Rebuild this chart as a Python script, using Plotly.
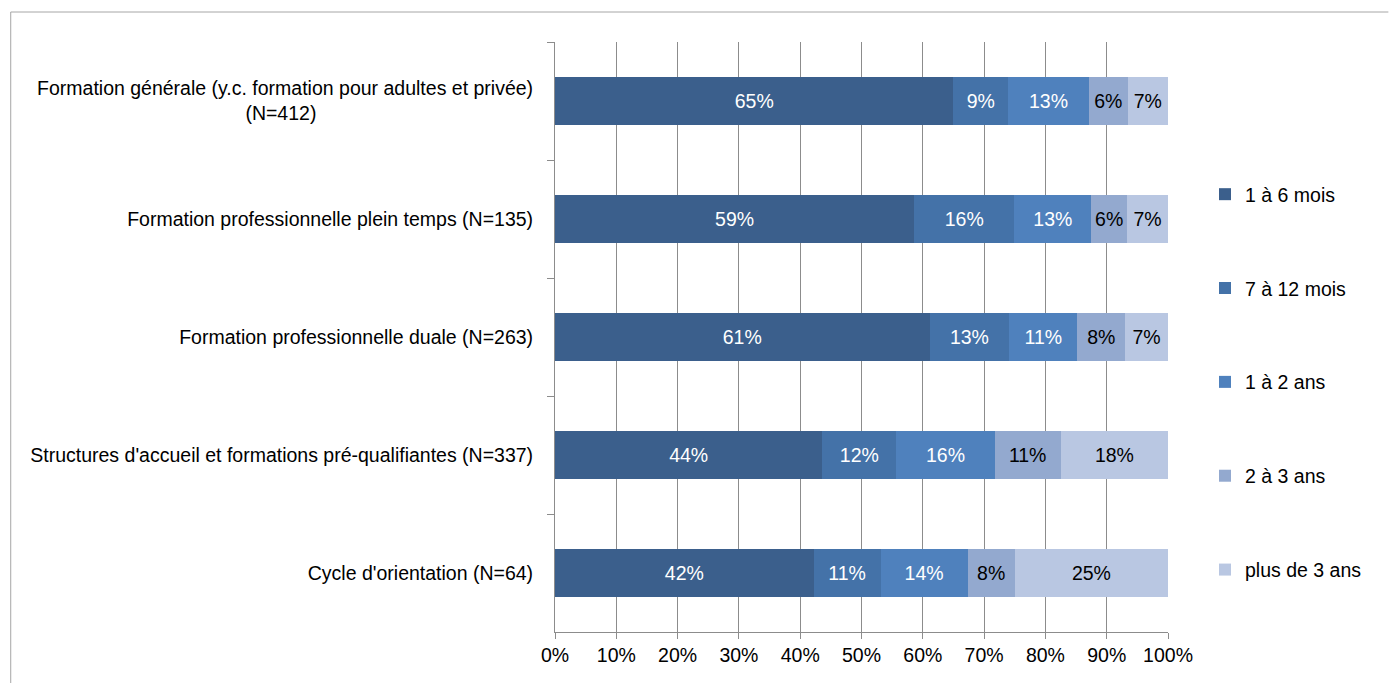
import plotly.graph_objects as go

# Categories (top to bottom) and share of each duration class, in percent
categories = [
    "Formation générale (y.c. formation pour adultes et privée)<br>(N=412)" + "\u00a0" * 40,
    "Formation professionnelle plein temps (N=135)",
    "Formation professionnelle duale (N=263)",
    "Structures d'accueil et formations pré-qualifiantes (N=337)",
    "Cycle d'orientation (N=64)",
]

series_names = ["1 à 6 mois", "7 à 12 mois", "1 à 2 ans", "2 à 3 ans", "plus de 3 ans"]

m1_6 = [65.0, 58.6, 61.1, 43.6, 42.2]
m7_12 = [8.9, 16.3, 13.0, 12.1, 10.9]
a1_2 = [13.2, 12.6, 11.1, 16.0, 14.2]
a2_3 = [6.3, 5.8, 7.8, 10.8, 7.7]
a3_plus = [6.6, 6.7, 7.0, 17.5, 25.0]

series_values = [m1_6, m7_12, a1_2, a2_3, a3_plus]
colors = ["#3B5F8C", "#4472A8", "#4F81BD", "#93A9CF", "#B9C7E2"]
text_colors = ["white", "white", "white", "black", "black"]

FONT = "Liberation Sans, Arial, sans-serif"
FS = 19.5

fig = go.Figure()
for name, vals, col, tcol in zip(series_names, series_values, colors, text_colors):
    fig.add_trace(go.Bar(
        y=categories,
        x=vals,
        orientation="h",
        name=name,
        legendgroup=name,
        marker=dict(color=col, line=dict(width=0)),
        texttemplate="%{x:.0f}%",
        textposition="inside",
        insidetextanchor="middle",
        textfont=dict(color=tcol, size=FS, family=FONT),
        hoverinfo="skip",
    ))

fig.update_layout(
    width=1391,
    height=683,
    barmode="stack",
    bargap=0.6,
    plot_bgcolor="white",
    paper_bgcolor="white",
    font=dict(family=FONT, size=FS, color="black"),
    margin=dict(l=555, r=221, t=42, b=51),
    uniformtext=dict(minsize=18, mode="show"),
    showlegend=True,
    legend=dict(
        xref="container", yref="container",
        x=1205 / 1391, xanchor="left",
        y=1 - 175 / 683, yanchor="top",
        traceorder="grouped",
        tracegroupgap=65.5,
        maxheight=1.0,
        font=dict(size=FS, family=FONT),
        bgcolor="rgba(0,0,0,0)",
    ),
    xaxis=dict(
        range=[0, 100],
        tickvals=[0, 10, 20, 30, 40, 50, 60, 70, 80, 90, 100],
        ticktext=["0%", "10%", "20%", "30%", "40%", "50%", "60%", "70%", "80%", "90%", "100%"],
        showgrid=True,
        gridcolor="#8C8C8C",
        gridwidth=1,
        showline=True,
        linecolor="#8C8C8C",
        ticks="outside",
        ticklen=6,
        tickcolor="#8C8C8C",
        zeroline=False,
        fixedrange=True,
    ),
    yaxis=dict(
        autorange="reversed",
        showline=True,
        linecolor="#8C8C8C",
        ticks="outside",
        ticklen=7,
        tickcolor="#8C8C8C",
        tickson="boundaries",
        showgrid=False,
        ticklabelstandoff=17,
        fixedrange=True,
    ),
    shapes=[
        dict(type="line", xref="paper", yref="paper",
             x0=-546 / 615, x1=836 / 615, y0=1 + 30 / 590, y1=1 + 30 / 590,
             line=dict(color="#A6A6A6", width=1)),
        dict(type="line", xref="paper", yref="paper",
             x0=-546 / 615, x1=-546 / 615, y0=1 + 30 / 590, y1=-60 / 590,
             line=dict(color="#A6A6A6", width=1)),
    ],
)

fig.write_html("out.html")
